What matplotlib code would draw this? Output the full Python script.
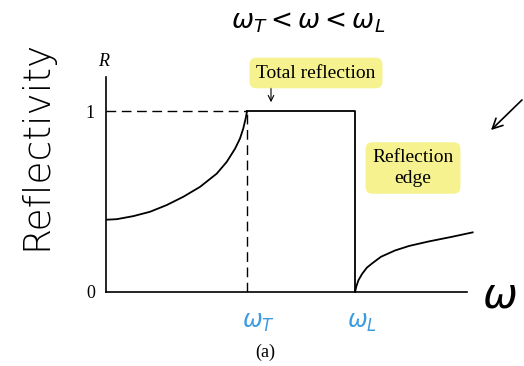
import numpy as np
import matplotlib
matplotlib.use('Agg')
import matplotlib.pyplot as plt

# reflectivity curve, read in units of omega_T (x) and R (y)
w_low  = [0.0, 0.076, 0.194, 0.312, 0.430, 0.548, 0.667, 0.785, 0.856,
          0.915, 0.950, 0.973, 0.990, 1.0]
r_low  = [0.400, 0.403, 0.420, 0.444, 0.481, 0.527, 0.582, 0.655, 0.720,
          0.793, 0.849, 0.904, 0.959, 1.0]
w_band = [1.0, 1.766, 1.766]
r_band = [1.0, 1.0, 0.0]
w_high = [1.766, 1.775, 1.79, 1.816, 1.85, 1.89, 1.95, 2.05, 2.15, 2.29, 2.45, 2.60]
r_high = [0.0, 0.03, 0.065, 0.10, 0.135, 0.16, 0.195, 0.23, 0.255, 0.28, 0.305, 0.33]
w_T, w_L = 1.0, 1.766
yticks = [0, 1]
ylabels = ['0', '1']

plt.rcParams['mathtext.fontset'] = 'dejavusans'
W, H = 524, 366
fig = plt.figure(figsize=(W/100, H/100), dpi=100)
ax = fig.add_axes([106/W, (H-292)/H, (467-106)/W, (292-77)/H])

lw = 1.3
ax.plot(w_low, r_low, color='k', lw=lw)
ax.plot(w_band, r_band, color='k', lw=lw)
ax.plot(w_high, r_high, color='k', lw=lw, clip_on=False)
ax.plot([0, w_T], [1, 1], color='k', lw=1.0, dashes=(7, 4))
ax.plot([w_T, w_T], [0, 1], color='k', lw=1.0, dashes=(7, 4))

ax.set_xlim(0, 2.56)
ax.set_ylim(0, 1.19)
for s in ['top', 'right']:
    ax.spines[s].set_visible(False)
for s in ['left', 'bottom']:
    ax.spines[s].set_linewidth(1.2)
ax.set_xticks([])
ax.set_yticks(yticks)
ax.set_yticklabels(ylabels, fontfamily='Liberation Serif', fontsize=13)
ax.tick_params(axis='y', length=0, pad=8)

serif = 'Liberation Serif'
hl = dict(boxstyle='round,pad=0.35', fc='#f4f07c', ec='none', alpha=0.85)
fig.text(104/W, 1-62/H, 'R', fontfamily=serif, style='italic', fontsize=13, ha='center', va='center')
fig.text(316/W, 1-73/H, 'Total reflection', fontfamily=serif, fontsize=14,
         ha='center', va='center', bbox=hl)
ax.annotate('', xy=(271/W, 1-105/H), xytext=(271/W, 1-85/H), xycoords='figure fraction',
            arrowprops=dict(arrowstyle='->', lw=0.8, color='k'))
fig.text(413/W, 1-168/H, 'Reflection\nedge', fontfamily=serif, fontsize=14,
         ha='center', va='center', linespacing=1.3, bbox=hl)
fig.text(265/W, 1-352/H, '(a)', fontfamily=serif, fontsize=13, ha='center', va='center')

# handwritten notes
blue = '#3d9be0'
fig.text(308/W, 1-22/H, r'$\omega_T<\omega<\omega_L$', fontsize=19, ha='center', va='center')
fig.text(36/W, 1-145/H, 'Reflectivity', fontsize=27, rotation=90, ha='center', va='center',
         fontweight='light')
fig.text(500/W, 1-296/H, r'$\omega$', fontsize=30, ha='center', va='center')
fig.text(258/W, 1-322/H, r'$\omega_T$', fontsize=17, color=blue, ha='center', va='center')
fig.text(362/W, 1-322/H, r'$\omega_L$', fontsize=17, color=blue, ha='center', va='center')
ax.annotate('', xy=(489/W, 1-132/H), xytext=(524/W, 1-98/H), xycoords='figure fraction',
            arrowprops=dict(arrowstyle='->', lw=1.2, color='k', mutation_scale=18))

fig.savefig('out.png', dpi=100)
